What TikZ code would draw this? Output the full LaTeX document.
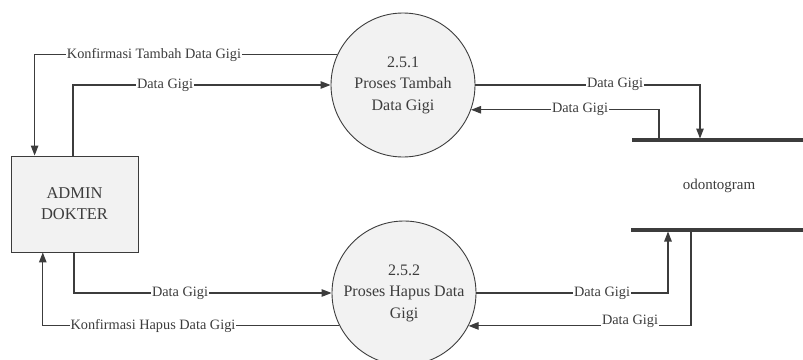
\documentclass[tikz,border=0pt]{standalone}
\usepackage{fontspec}
\setmainfont{Liberation Serif}
\usetikzlibrary{arrows.meta,calc}
\definecolor{ink}{HTML}{3C3C3C}
\definecolor{shade}{HTML}{F2F2F2}
\tikzset{
  flow/.style={draw=ink, line width=1.1pt},
  arr/.style={flow, -{Triangle[length=10pt,width=7.5pt]}},
  proc/.style={circle, draw=ink, line width=0.9pt, fill=shade, minimum size=144pt,
    align=center, font=\fontsize{16}{21.5}\selectfont, text=ink, inner sep=0pt},
  ent/.style={rectangle, draw=ink, line width=0.9pt, fill=shade, minimum width=127pt,
    minimum height=96pt, align=center, font=\fontsize{16.5}{21}\selectfont, text=ink},
  lbl/.style={fill=white, inner sep=1pt, font=\fontsize{14.3}{16}\selectfont, text=ink},
  store/.style={draw=ink, line width=3.5pt},
}
\begin{document}
\begin{tikzpicture}[x=1pt, y=-1pt]
  \useasboundingbox (0,0) rectangle (803,359);

  % processes and entity
  \node[proc] (p1) at (403,85) {2.5.1\\Proses Tambah\\Data Gigi};
  \node[proc] (p2) at (404,293) {2.5.2\\Proses Hapus Data\\Gigi};
  \node[ent] (adm) at (74.5,204) {ADMIN\\DOKTER};

  % data store
  \coordinate (s1a) at (632,140);
  \coordinate (s1b) at (803,140);
  \coordinate (s2a) at (631,230);
  \coordinate (s2b) at (803,230);
  \draw[store] (s1a) -- (s1b);
  \draw[store] (s2a) -- (s2b);
  \node[font=\fontsize{15}{18}\selectfont, text=ink] (ds) at (719,186) {odontogram};

  % entry points on the entity box
  \coordinate (a1) at ($(adm.north west)!0.188!(adm.north east)$);
  \coordinate (a2) at ($(adm.north west)!0.488!(adm.north east)$);
  \coordinate (a3) at ($(adm.south west)!0.496!(adm.south east)$);
  \coordinate (a4) at ($(adm.south west)!0.252!(adm.south east)$);

  % admin <-> proses tambah
  \draw[arr] (p1.155.4) -| (a1);
  \node[lbl] at (154,55) {Konfirmasi Tambah Data Gigi};
  \draw[arr] (a2) |- (p1.west);
  \node[lbl] at (165,85) {Data Gigi};

  % proses tambah <-> odontogram
  \draw[arr] (p1.east) -| (700,138.5);
  \node[lbl] at (615,84) {Data Gigi};
  \draw[arr] (659,138) |- (p1.340);
  \node[lbl] at (580,109) {Data Gigi};

  % admin <-> proses hapus
  \draw[arr] (a3) |- (p2.west);
  \node[lbl] at (180,293) {Data Gigi};
  \draw[arr] (p2.207) -| (a4);
  \node[lbl] at (153,326) {Konfirmasi Hapus Data Gigi};

  % proses hapus <-> odontogram
  \draw[arr] (p2.east) -| (668,231.5);
  \node[lbl] at (602,293) {Data Gigi};
  \draw[arr] (691,231.5) |- (p2.333);
  \node[lbl] at (630,321) {Data Gigi};
\end{tikzpicture}
\end{document}
